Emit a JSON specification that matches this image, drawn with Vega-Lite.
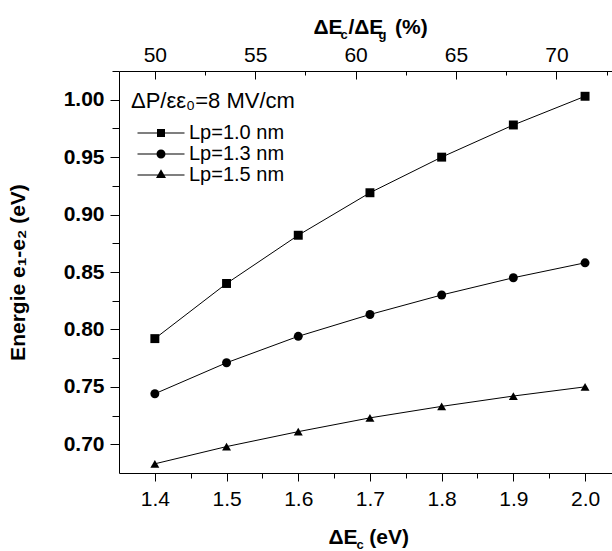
{
  "$schema": "https://vega.github.io/schema/vega-lite/v6.json",
  "width": 493,
  "height": 402,
  "autosize": {"type": "none"},
  "padding": {"left": 119, "top": 71, "right": 0, "bottom": 78},
  "background": "white",
  "config": {
    "font": "Liberation Sans",
    "view": {"stroke": null},
    "axis": {"grid": false, "domainColor": "black", "tickColor": "black", "labelColor": "black", "titleColor": "black", "domainWidth": 1, "tickWidth": 1, "labelFont": "Liberation Sans", "titleFont": "Liberation Sans"}
  },
  "data": {
    "values": [
      {"E": 1.4, "R": 50.0, "V": 0.792, "S": "Lp=1.0 nm"},
      {"E": 1.5, "R": 53.571, "V": 0.840, "S": "Lp=1.0 nm"},
      {"E": 1.6, "R": 57.143, "V": 0.882, "S": "Lp=1.0 nm"},
      {"E": 1.7, "R": 60.714, "V": 0.919, "S": "Lp=1.0 nm"},
      {"E": 1.8, "R": 64.286, "V": 0.950, "S": "Lp=1.0 nm"},
      {"E": 1.9, "R": 67.857, "V": 0.978, "S": "Lp=1.0 nm"},
      {"E": 2.0, "R": 71.429, "V": 1.003, "S": "Lp=1.0 nm"},
      {"E": 1.4, "R": 50.0, "V": 0.744, "S": "Lp=1.3 nm"},
      {"E": 1.5, "R": 53.571, "V": 0.771, "S": "Lp=1.3 nm"},
      {"E": 1.6, "R": 57.143, "V": 0.794, "S": "Lp=1.3 nm"},
      {"E": 1.7, "R": 60.714, "V": 0.813, "S": "Lp=1.3 nm"},
      {"E": 1.8, "R": 64.286, "V": 0.830, "S": "Lp=1.3 nm"},
      {"E": 1.9, "R": 67.857, "V": 0.845, "S": "Lp=1.3 nm"},
      {"E": 2.0, "R": 71.429, "V": 0.858, "S": "Lp=1.3 nm"},
      {"E": 1.4, "R": 50.0, "V": 0.683, "S": "Lp=1.5 nm"},
      {"E": 1.5, "R": 53.571, "V": 0.698, "S": "Lp=1.5 nm"},
      {"E": 1.6, "R": 57.143, "V": 0.711, "S": "Lp=1.5 nm"},
      {"E": 1.7, "R": 60.714, "V": 0.723, "S": "Lp=1.5 nm"},
      {"E": 1.8, "R": 64.286, "V": 0.733, "S": "Lp=1.5 nm"},
      {"E": 1.9, "R": 67.857, "V": 0.742, "S": "Lp=1.5 nm"},
      {"E": 2.0, "R": 71.429, "V": 0.750, "S": "Lp=1.5 nm"}
    ]
  },
  "resolve": {
    "scale": {"x": "independent", "y": "independent", "shape": "independent"},
    "axis": {"x": "independent", "y": "independent"},
    "legend": {"shape": "independent"}
  },
  "layer": [
    {
      "mark": {"type": "line", "color": "black", "strokeWidth": 1},
      "encoding": {
        "x": {
          "field": "E", "type": "quantitative",
          "scale": {"domain": [1.35, 2.0376], "nice": false, "zero": false},
          "axis": {
            "orient": "bottom", "values": [1.4, 1.5, 1.6, 1.7, 1.8, 1.9, 2.0], "format": ".1f",
            "tickSize": 8, "labelFontSize": 21, "labelPadding": 7,
            "title": "ΔE\u00a0\u00a0(eV)", "titleFontSize": 21, "titleFontWeight": "bold",
            "titleX": 209, "titleY": 70, "titleAlign": "left", "titleBaseline": "alphabetic"
          }
        },
        "y": {
          "field": "V", "type": "quantitative",
          "scale": {"domain": [0.675, 1.025], "nice": false, "zero": false},
          "axis": {
            "orient": "left", "values": [0.70, 0.75, 0.80, 0.85, 0.90, 0.95, 1.00], "format": ".2f",
            "tickSize": 9, "labelFontSize": 21, "labelFontWeight": "bold", "labelPadding": 6,
            "title": "Energie e₁-e₂ (eV)", "titleFontSize": 21, "titleFontWeight": "bold",
            "titleX": -95, "titleY": 201, "titleAlign": "center", "titleBaseline": "alphabetic", "titleAngle": -90
          }
        },
        "detail": {"field": "S", "type": "nominal"}
      }
    },
    {
      "mark": {"type": "point", "filled": true, "color": "black", "opacity": 1, "strokeWidth": 0, "size": 80},
      "encoding": {
        "x": {
          "field": "R", "type": "quantitative",
          "scale": {"domain": [48.214, 72.771], "nice": false, "zero": false},
          "axis": {
            "orient": "top", "values": [50, 55, 60, 65, 70], "format": "d",
            "tickSize": -8, "labelFontSize": 21, "labelPadding": 14,
            "title": "ΔE\u00a0/ΔE\u00a0\u00a0(%)", "titleFontSize": 21, "titleFontWeight": "bold",
            "titleX": 194, "titleY": -38, "titleAlign": "left", "titleBaseline": "alphabetic"
          }
        },
        "y": {
          "field": "V", "type": "quantitative",
          "scale": {"domain": [0.675, 1.025], "nice": false, "zero": false},
          "axis": {
            "orient": "left", "values": [0.725, 0.775, 0.825, 0.875, 0.925, 0.975, 1.025],
            "tickSize": 7, "labels": false, "domain": false, "title": null
          }
        },
        "shape": {
          "field": "S", "type": "nominal",
          "scale": {"domain": ["Lp=1.0 nm", "Lp=1.3 nm", "Lp=1.5 nm"], "range": ["square", "circle", "triangle-up"]},
          "legend": null
        }
      }
    },
    {
      "transform": [{"filter": "false"}],
      "mark": {"type": "point", "filled": true, "fill": "black", "opacity": 1, "strokeWidth": 0},
      "encoding": {
        "x": {"field": "E", "type": "quantitative", "scale": {"domain": [1.35, 2.0376], "nice": false, "zero": false}, "axis": null},
        "y": {"field": "V", "type": "quantitative", "scale": {"domain": [0.675, 1.025], "nice": false, "zero": false}, "axis": null},
        "shape": {
          "field": "S", "type": "nominal",
          "scale": {
            "domain": ["Lp=1.0 nm", "Lp=1.3 nm", "Lp=1.5 nm"],
            "range": [
              "M-2.35,-0.05L2.35,-0.05L2.35,0.05L-2.35,0.05ZM-0.4,-0.4L0.4,-0.4L0.4,0.4L-0.4,0.4Z",
              "M-2.35,-0.05L2.35,-0.05L2.35,0.05L-2.35,0.05ZM-0.45,0A0.45,0.45,0,1,1,0.45,0A0.45,0.45,0,1,1,-0.45,0Z",
              "M-2.35,-0.05L2.35,-0.05L2.35,0.05L-2.35,0.05ZM0,-0.577L0.5,0.289L-0.5,0.289Z"
            ]
          },
          "legend": {
            "orient": "none", "legendX": 12, "legendY": 20, "direction": "vertical", "padding": 0,
            "title": "ΔP/εε₀=8 MV/cm", "titleFontSize": 22, "titleFontWeight": "normal", "titleFont": "Liberation Sans", "titleColor": "black", "titlePadding": 10,
            "labelFontSize": 20, "labelFont": "Liberation Sans", "labelColor": "black", "labelOffset": 18,
            "symbolOffset": 20, "symbolSize": 400, "rowPadding": 1,
            "symbolStrokeWidth": 0, "symbolFillColor": "black", "symbolOpacity": 1
          }
        }
      }
    },
    {
      "mark": {"type": "point", "opacity": 0},
      "encoding": {
        "x": {
          "field": "E", "type": "quantitative",
          "scale": {"domain": [1.35, 2.0376], "nice": false, "zero": false},
          "axis": {
            "orient": "bottom", "values": [1.45, 1.55, 1.65, 1.75, 1.85, 1.95],
            "tickSize": 5, "labels": false, "domain": false,
            "title": "c", "titleFontSize": 13, "titleFontWeight": "bold",
            "titleX": 237, "titleY": 75, "titleAlign": "left", "titleBaseline": "alphabetic"
          }
        },
        "y": {"field": "V", "type": "quantitative", "scale": {"domain": [0.675, 1.025], "nice": false, "zero": false}, "axis": null}
      }
    },
    {
      "mark": {"type": "point", "opacity": 0},
      "encoding": {
        "x": {
          "field": "R", "type": "quantitative",
          "scale": {"domain": [48.214, 72.771], "nice": false, "zero": false},
          "axis": {
            "orient": "top", "values": [52.5, 57.5, 62.5, 67.5, 72.5],
            "tickSize": -4, "labels": false, "domain": false,
            "title": "c", "titleFontSize": 13, "titleFontWeight": "bold",
            "titleX": 221, "titleY": -33, "titleAlign": "left", "titleBaseline": "alphabetic"
          }
        },
        "y": {"field": "V", "type": "quantitative", "scale": {"domain": [0.675, 1.025], "nice": false, "zero": false}, "axis": null}
      }
    },
    {
      "mark": {"type": "point", "opacity": 0},
      "encoding": {
        "x": {
          "field": "R", "type": "quantitative",
          "scale": {"domain": [48.214, 72.771], "nice": false, "zero": false},
          "axis": {
            "orient": "top", "ticks": false, "labels": false, "domain": false,
            "title": "g", "titleFontSize": 13, "titleFontWeight": "bold",
            "titleX": 259, "titleY": -33, "titleAlign": "left", "titleBaseline": "alphabetic"
          }
        },
        "y": {"field": "V", "type": "quantitative", "scale": {"domain": [0.675, 1.025], "nice": false, "zero": false}, "axis": null}
      }
    }
  ]
}
